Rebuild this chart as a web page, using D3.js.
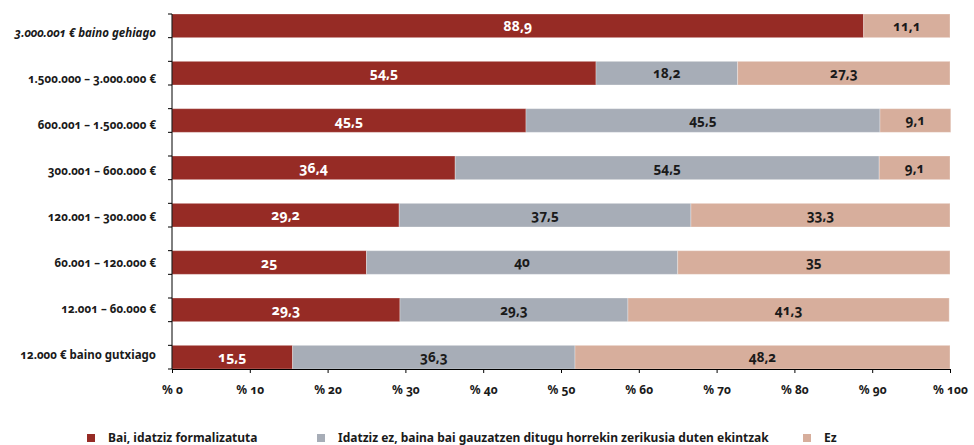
<!DOCTYPE html>
<html><head><meta charset="utf-8">
<script src="https://cdn.jsdelivr.net/npm/d3@7"></script>
<style>
body{margin:0;background:#fff;}
svg{display:block;font-family:"Noto Sans",sans-serif;font-feature-settings:"onum" 1;font-variant-numeric:oldstyle-nums;}
</style></head><body>
<svg id="c" width="974" height="445"></svg>
<script>
const categories = ["3.000.001 € baino gehiago","1.500.000 – 3.000.000 €","600.001 – 1.500.000 €","300.001 – 600.000 €","120.001 – 300.000 €","60.001 – 120.000 €","12.001 – 60.000 €","12.000 € baino gutxiago"];
const bai = [88.9,54.5,45.5,36.4,29.2,25,29.3,15.5];
const idatzizEz = [0,18.2,45.5,54.5,37.5,40,29.3,36.3];
const ez = [11.1,27.3,9.1,9.1,33.3,35,41.3,48.2];
const seriesNames = ["Bai, idatziz formalizatuta","Idatziz ez, baina bai gauzatzen ditugu horrekin zerikusia duten ekintzak","Ez"];
const colors = ["#962b25","#a7adb7","#d7ae9c"];
const xTicks = [0,10,20,30,40,50,60,70,80,90,100];

const svg = d3.select("#c");
const x = d3.scaleLinear().domain([0,100]).range([172,950]);
const y = d3.scaleBand().domain(categories).range([14,392.67]).padding(0);
const barH = y.bandwidth()/2;
const yLab = d3.scalePoint().domain(categories).range([33,355]);

const rows = categories.map((c,i)=>({cat:c, vals:[bai[i],idatzizEz[i],ez[i]]}));
const segs = [];
rows.forEach(r=>{let acc=0; r.vals.forEach((v,k)=>{segs.push({cat:r.cat,k,v,x0:acc,x1:acc+v}); acc+=v;});});

const g = svg.append("g");
g.selectAll("rect.seg").data(segs.filter(d=>d.v>0)).join("rect")
 .attr("class","seg")
 .attr("x",d=>x(d.x0)).attr("width",d=>x(d.x1)-x(d.x0))
 .attr("y",d=>y(d.cat)).attr("height",barH)
 .attr("fill",d=>colors[d.k])
 .attr("stroke","rgba(255,255,255,0.3)").attr("stroke-width",1);

g.selectAll("text.val").data(segs.filter(d=>d.v>0)).join("text")
 .attr("x",d=>(x(d.x0)+x(d.x1))/2).attr("y",d=>y(d.cat)+barH/2)
 .attr("dy","0.36em").attr("text-anchor","middle")
 .attr("font-weight","bold")
 .attr("font-size",d=>d.k===0?14:13.5)
 .attr("fill",d=>d.k===0?"#ffffff":"#1a1a1a")
 .text(d=>String(d.v).replace(".",","));

// x axis
const xa = svg.append("g").attr("transform","translate(0,369)")
 .call(d3.axisBottom(x).tickValues(xTicks).tickSize(4).tickSizeOuter(0).tickPadding(12).tickFormat(d=>"% "+d));
xa.select(".domain").attr("stroke","#000");
xa.selectAll(".tick line").attr("stroke","#000");
xa.selectAll("text").attr("font-family","'Noto Sans',sans-serif").attr("font-size",12).attr("font-weight","bold").attr("fill","#1a1a1a");

// y axis line and ticks
svg.append("line").attr("x1",172).attr("x2",172).attr("y1",y(categories[0])).attr("y2",369).attr("stroke","#000");
const yt = [];
categories.forEach(c=>{yt.push(y(c)); yt.push(y(c)+barH);});
svg.selectAll("line.yt").data(yt).join("line").attr("class","yt")
 .attr("x1",168).attr("x2",172).attr("y1",d=>d).attr("y2",d=>d).attr("stroke","#000");

svg.selectAll("text.cat").data(categories).join("text").attr("class","cat")
 .attr("x",156).attr("y",d=>yLab(d)).attr("dy","0.35em").attr("text-anchor","end")
 .attr("font-size",11.5).attr("font-weight","bold").attr("fill","#1a1a1a")
 .attr("font-style",(d,i)=>i===0?"italic":"normal")
 .text(d=>d);

// legend
const legX = [87,317,803];
const lg = svg.selectAll("g.leg").data(seriesNames).join("g").attr("class","leg")
 .attr("transform",(d,i)=>`translate(${legX[i]},434)`);
lg.append("rect").attr("width",8).attr("height",8).attr("fill",(d,i)=>colors[i]);
lg.append("text").attr("x",21).attr("y",3.5).attr("dy","0.35em")
 .attr("font-size",12).attr("font-weight","bold").attr("fill","#1a1a1a").text(d=>d);
</script></body></html>
